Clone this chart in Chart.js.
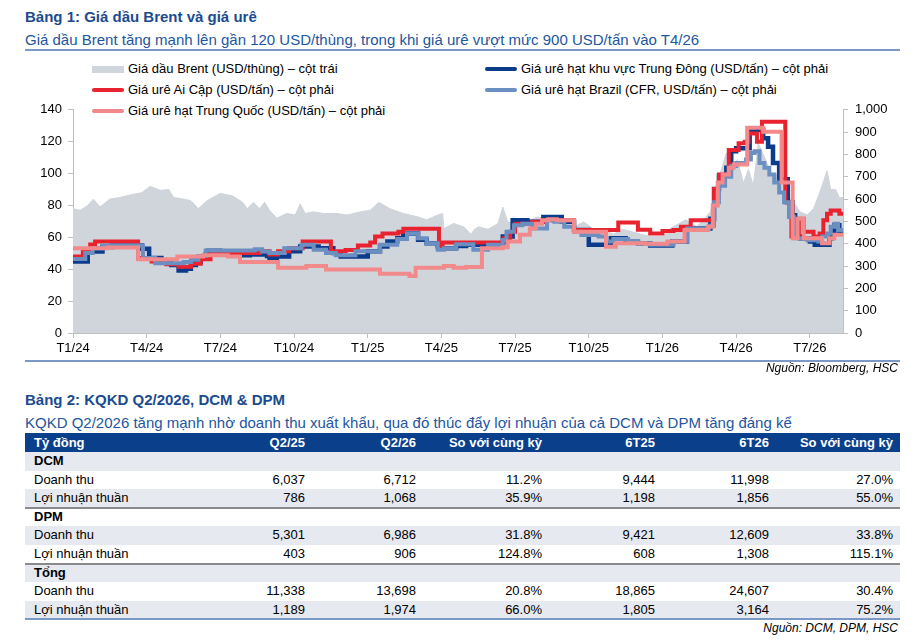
<!DOCTYPE html>
<html lang="vi">
<head>
<meta charset="utf-8">
<title>Giá dầu Brent và giá urê</title>
<script src="https://cdn.jsdelivr.net/npm/chart.js@4.4.1/dist/chart.umd.min.js"></script>
<style>
  html, body { margin: 0; padding: 0; background: #fff; }
  body { width: 921px; height: 641px; position: relative; overflow: hidden;
         font-family: Arial, "Liberation Sans", sans-serif; color: #000; }
  .abs { position: absolute; white-space: nowrap; }
  .title { font-size: 15px; font-weight: bold; color: #1B4B8F; line-height: 18px; }
  .sub { font-size: 15px; color: #2356A0; line-height: 18px; }
  .rule { position: absolute; left: 25px; width: 875px; height: 2px; background: #7C98C4; }
  .src { font-size: 12px; font-style: italic; line-height: 14px; right: 23px; }
  .lg { font-size: 13px; line-height: 16px; }
  .sw { position: absolute; width: 32px; height: 4px; border-radius: 2px; }
  #chartBox { position: absolute; left: 0; top: 95px; width: 921px; height: 270px; }
  .row { position: absolute; left: 25px; width: 875px; font-size: 13px; }
  .cell { position: absolute; top: 0; }
  .num { text-align: right; }
</style>
</head>
<body>

<div class="abs title" style="left:25px; top:8px;">Bảng 1: Giá dầu Brent và giá urê</div>
<div class="abs sub" style="left:25px; top:31px;">Giá dầu Brent tăng mạnh lên gần 120 USD/thùng, trong khi giá urê vượt mức 900 USD/tấn vào T4/26</div>
<div class="rule" style="top:49px;"></div>

<div id="legend"></div>

<div id="chartBox"><canvas id="ureaChart" width="921" height="270"></canvas></div>

<div class="rule" style="top:360px;"></div>
<div class="abs src" style="top:361px;">Nguồn: Bloomberg, HSC</div>

<div class="abs title" style="left:25px; top:391px;">Bảng 2: KQKD Q2/2026, DCM &amp; DPM</div>
<div class="abs sub" style="left:25px; top:414px;">KQKD Q2/2026 tăng mạnh nhờ doanh thu xuất khẩu, qua đó thúc đẩy lợi nhuận của cả DCM và DPM tăng đáng kể</div>

<div id="table"></div>
<div class="abs src" style="top:621px;">Nguồn: DCM, DPM, HSC</div>

<script>
// x values are months counted from T1/24 (0 = Jan 2024)
const tickMonths = [0, 3, 6, 9, 12, 15, 18, 21, 24, 27, 30];
const tickLabels = ['T1/24', 'T4/24', 'T7/24', 'T10/24', 'T1/25', 'T4/25', 'T7/25', 'T10/25', 'T1/26', 'T4/26', 'T7/26'];

// Brent (USD/thùng), left axis
const brentMonths = [0, 0.3, 0.6, 0.83, 1.1, 1.5, 1.9, 2.45, 2.8, 3.14, 3.55, 3.9, 4.1, 4.5, 4.8, 5.1, 5.45, 6.0, 6.5, 6.9,
  7.1, 7.35, 7.6, 7.8, 8.0, 8.3, 8.7, 9.05, 9.25, 9.45, 9.8, 10.2, 10.75, 11.15, 11.7, 12.1, 12.45, 12.9, 13.45, 14.0,
  14.4, 14.85, 15.05, 15.1, 15.5, 15.9, 16.2, 16.35, 16.5, 16.9, 17.3, 17.5, 17.7, 17.95, 18.5, 18.9, 19.45, 20.0, 20.4, 20.8,
  21.2, 21.6, 22.0, 22.4, 23.0, 23.5, 24.05, 24.3, 24.95, 25.4, 25.95, 26.2, 26.4, 26.6, 26.8, 27.05, 27.3, 27.5, 27.7, 27.9,
  28.2, 28.5, 28.8, 29.1, 29.35, 29.6, 29.9, 30.15, 30.4, 30.7, 30.85, 31.05, 31.2, 31.35];
const brentPrice = [78, 77, 80, 84, 79, 84, 85, 87, 88, 92, 89.5, 90, 85, 84, 83, 78, 83, 87.6, 86, 82,
  78, 82, 78, 82, 77, 72, 75, 74, 81, 75, 76, 75, 75, 74, 76, 77, 82, 78, 75, 73,
  71, 74, 75, 65.5, 68.7, 66.6, 62, 65, 66.6, 65, 68.7, 79, 69.7, 68.7, 69.7, 72.8, 71.7, 69.7, 66.6, 69.7,
  65, 65, 62, 65, 62.5, 60.5, 60.5, 65.5, 71, 66.6, 76, 94, 102.6, 113, 102.6, 108.8, 94, 102.6, 92.5, 119,
  108.8, 96, 102.6, 86, 82, 76, 74, 78, 88, 101.8, 90, 90, 85, 85];

// urea, right axis (USD/tấn); each point starts a new price level
const meMonths = [0, 0.6, 1.2, 1.6, 2.8, 3.1, 3.6, 4.0, 4.3, 4.6, 4.8, 5.0, 5.2, 5.4, 5.5, 6.0, 6.6, 7.2, 7.9, 8.0,
  8.3, 8.8, 9.25, 10.0, 10.6, 10.9, 12.0, 12.5, 12.8, 13.2, 13.45, 14.05, 14.4, 14.85, 15.0, 15.6, 16.0, 17.5, 17.9, 18.5,
  19.15, 19.9, 20.4, 21.0, 21.9, 22.5, 23.0, 23.5, 24.4, 25.0, 25.95, 26.1, 26.3, 26.6, 26.8, 27.0, 27.55, 28.1, 28.3, 28.5,
  28.75, 29.1, 29.3, 29.4, 29.6, 30.0, 30.2, 30.8, 30.9, 31.0, 31.2, 31.35];
const mePrice = [320, 365, 385, 392, 378, 336, 318, 305, 280, 288, 305, 318, 335, 352, 368, 355, 348, 352, 345, 336,
  343, 366, 388, 380, 358, 343, 366, 388, 410, 424, 446, 418, 402, 388, 380, 390, 395, 432, 505, 498,
  520, 498, 462, 395, 424, 410, 402, 392, 410, 468, 512, 645, 704, 740, 814, 828, 909, 872, 835, 762,
  689, 586, 527, 432, 424, 410, 395, 424, 446, 483, 455, 455];

const egyptMonths = [0, 0.4, 0.7, 0.9, 2.65, 3.2, 3.8, 4.3, 4.8, 5.2, 5.6, 7.6, 8.0, 8.35, 8.8, 9.35, 10.5, 11.1, 11.6, 12.1,
  12.3, 12.6, 13.25, 13.45, 14.9, 15.05, 17.55, 17.8, 18.0, 18.7, 19.2, 20.4, 22.2, 23.0, 23.5, 24.0, 24.45, 24.75, 25.15, 26.1,
  26.3, 26.7, 27.1, 27.35, 27.5, 27.85, 28.05, 29.0, 29.25, 29.55, 29.75, 30.15, 30.4, 30.55, 30.7, 30.85, 31.2, 31.35];
const egyptPrice = [343, 366, 396, 410, 336, 320, 308, 297, 310, 330, 358, 366, 352, 366, 380, 410, 366, 372, 392, 406,
  432, 446, 454, 467, 380, 406, 424, 454, 490, 498, 505, 461, 495, 463, 446, 457, 461, 476, 505, 645,
  710, 820, 850, 857, 894, 857, 946, 586, 432, 512, 454, 432, 446, 505, 534, 549, 534, 534];

const brazilMonths = [0, 0.5, 0.8, 1.2, 2.85, 3.35, 4.5, 4.8, 5.1, 5.4, 7.4, 7.7, 8.0, 8.6, 9.3, 9.8, 10.3, 10.7, 11.5, 12.5,
  13.2, 13.6, 14.05, 14.4, 14.85, 15.1, 15.6, 16.3, 16.9, 17.5, 17.65, 17.95, 18.3, 18.7, 19.3, 19.6, 20.0, 20.4, 20.7, 21.4,
  21.7, 22.0, 22.6, 23.0, 23.5, 24.45, 25.0, 25.9, 26.1, 26.3, 26.55, 26.8, 27.0, 27.4, 27.6, 27.75, 27.95, 28.15, 28.35, 28.55,
  28.75, 28.95, 29.15, 29.35, 29.9, 30.35, 30.5, 30.7, 30.85, 31.0, 31.15, 31.35];
const brazilPrice = [332, 358, 380, 392, 336, 312, 318, 328, 345, 370, 375, 365, 358, 380, 395, 373, 358, 348, 366, 395,
  421, 446, 424, 402, 373, 380, 398, 373, 395, 417, 454, 483, 490, 468, 505, 498, 476, 454, 439, 432,
  410, 421, 412, 402, 395, 410, 468, 480, 586, 660, 700, 748, 762, 777, 806, 814, 762, 740, 710, 674,
  630, 586, 520, 424, 415, 410, 432, 446, 476, 490, 461, 461];

const chinaMonths = [0, 1.4, 2.65, 4.25, 5.3, 6.3, 6.8, 8.35, 9.5, 10.3, 12.5, 13.7, 13.95, 15.1, 15.5, 16.0, 16.65, 17.5, 17.7, 18.2,
  18.6, 18.85, 19.1, 19.35, 19.7, 20.4, 21.7, 22.1, 23.3, 24.2, 24.9, 25.85, 26.05, 26.25, 26.45, 26.7, 26.9, 27.45, 28.1, 28.85,
  29.3, 29.5, 29.75, 30.5, 30.8, 31.0, 31.35];
const chinaPrice = [380, 383, 330, 343, 348, 343, 318, 292, 300, 284, 266, 255, 292, 300, 292, 296, 380, 384, 410, 440,
  468, 490, 505, 510, 505, 454, 386, 402, 400, 410, 462, 476, 571, 674, 710, 740, 755, 920, 902, 674,
  424, 512, 424, 402, 424, 440, 440];

const seriesNames = [
  'Giá dầu Brent (USD/thùng) – cột trái',
  'Giá urê hạt khu vực Trung Đông (USD/tấn) – cột phải',
  'Giá urê Ai Cập (USD/tấn) – cột phải',
  'Giá urê hạt Brazil (CFR, USD/tấn) – cột phải',
  'Giá urê hạt Trung Quốc (USD/tấn) – cột phải'
];
const seriesColors = ['#D0D4DB', '#0B3C8C', '#E8222E', '#6C8FC2', '#F28A8C'];

// table values
const tableHead = ['Tỷ đồng', 'Q2/25', 'Q2/26', 'So với cùng kỳ', '6T25', '6T26', 'So với cùng kỳ'];
const groupNames = ['DCM', 'DPM', 'Tổng'];
const rowNames = ['Doanh thu', 'Lợi nhuận thuần'];
const dcmRows = [['6,037', '6,712', '11.2%', '9,444', '11,998', '27.0%'],
                 ['786', '1,068', '35.9%', '1,198', '1,856', '55.0%']];
const dpmRows = [['5,301', '6,986', '31.8%', '9,421', '12,609', '33.8%'],
                 ['403', '906', '124.8%', '608', '1,308', '115.1%']];
const totalRows = [['11,338', '13,698', '20.8%', '18,865', '24,607', '30.4%'],
                   ['1,189', '1,974', '66.0%', '1,805', '3,164', '75.2%']];

function pts(xs, ys) {
  return xs.map((x, i) => ({ x: x, y: ys[i] }));
}

// legend (html)
const legendSpots = [
  { left: 92, top: 69, bar: true },
  { left: 485, top: 69 },
  { left: 92, top: 90 },
  { left: 485, top: 90 },
  { left: 92, top: 111 }
];
const legendEl = document.getElementById('legend');
seriesNames.forEach((name, i) => {
  const s = legendSpots[i];
  const sw = document.createElement('div');
  sw.className = 'sw';
  sw.style.left = s.left + 'px';
  sw.style.background = seriesColors[i];
  if (s.bar) {
    sw.style.height = '7px';
    sw.style.borderRadius = '0';
    sw.style.top = (s.top - 3.5) + 'px';
  } else {
    sw.style.top = (s.top - 2) + 'px';
  }
  legendEl.appendChild(sw);
  const t = document.createElement('div');
  t.className = 'abs lg';
  t.style.left = (s.left + 36) + 'px';
  t.style.top = (s.top - 8) + 'px';
  t.textContent = name;
  legendEl.appendChild(t);
});

const tickFont = { family: 'Arial, "Liberation Sans", sans-serif', size: 13 };
const axisGray = '#BFBFBF';

const ctx = document.getElementById('ureaChart').getContext('2d');
new Chart(ctx, {
  type: 'line',
  data: {
    datasets: [
      {
        label: seriesNames[0],
        data: pts(brentMonths, brentPrice),
        yAxisID: 'yLeft',
        borderColor: seriesColors[0],
        backgroundColor: seriesColors[0],
        borderWidth: 1,
        fill: 'origin',
        pointRadius: 0,
        order: 5
      },
      {
        label: seriesNames[1],
        data: pts(meMonths, mePrice),
        yAxisID: 'yRight',
        borderColor: seriesColors[1],
        borderWidth: 4.5,
        stepped: true,
        fill: false,
        pointRadius: 0,
        order: 4
      },
      {
        label: seriesNames[2],
        data: pts(egyptMonths, egyptPrice),
        yAxisID: 'yRight',
        borderColor: seriesColors[2],
        borderWidth: 4,
        stepped: true,
        fill: false,
        pointRadius: 0,
        order: 3
      },
      {
        label: seriesNames[3],
        data: pts(brazilMonths, brazilPrice),
        yAxisID: 'yRight',
        borderColor: seriesColors[3],
        borderWidth: 4,
        stepped: true,
        fill: false,
        pointRadius: 0,
        order: 2
      },
      {
        label: seriesNames[4],
        data: pts(chinaMonths, chinaPrice),
        yAxisID: 'yRight',
        borderColor: seriesColors[4],
        borderWidth: 4,
        stepped: true,
        fill: false,
        pointRadius: 0,
        order: 1
      }
    ]
  },
  options: {
    responsive: false,
    animation: false,
    layout: { padding: { top: 11, left: 0, right: 0, bottom: 0 } },
    plugins: {
      legend: { display: false },
      tooltip: { enabled: false }
    },
    scales: {
      x: {
        type: 'linear',
        min: 0,
        max: 31.35,
        afterBuildTicks: (scale) => {
          scale.ticks = tickMonths.map(v => ({ value: v }));
        },
        afterFit: (scale) => { scale.height = 32; },
        ticks: {
          autoSkip: false,
          maxRotation: 0,
          padding: 3,
          color: '#000',
          font: tickFont,
          callback: (v) => tickLabels[tickMonths.indexOf(v)]
        },
        grid: { drawOnChartArea: false, drawTicks: true, tickLength: 5, color: axisGray },
        border: { display: true, color: axisGray }
      },
      yLeft: {
        position: 'left',
        min: 0,
        max: 140,
        afterFit: (scale) => { scale.width = 73; },
        ticks: { stepSize: 20, padding: 6, color: '#000', font: tickFont },
        grid: { drawOnChartArea: false, drawTicks: true, tickLength: 5, color: axisGray },
        border: { display: true, color: axisGray }
      },
      yRight: {
        position: 'right',
        min: 0,
        max: 1000,
        afterFit: (scale) => { scale.width = 78; },
        ticks: {
          stepSize: 100,
          padding: 7,
          color: '#000',
          font: tickFont,
          callback: (v) => v.toLocaleString('en-US')
        },
        grid: { drawOnChartArea: false, drawTicks: true, tickLength: 5, color: axisGray },
        border: { display: true, color: axisGray }
      }
    }
  }
});

// table (html)
const colRight = [305, 416, 542, 655, 769, 893];
const tableEl = document.getElementById('table');

function addRow(top, height, cells, opts) {
  const r = document.createElement('div');
  r.className = 'row';
  r.style.top = top + 'px';
  r.style.height = height + 'px';
  r.style.lineHeight = height + 'px';
  r.style.background = opts.bg;
  if (opts.color) r.style.color = opts.color;
  if (opts.bold) r.style.fontWeight = 'bold';
  cells.forEach((txt, i) => {
    const c = document.createElement('div');
    c.className = 'cell';
    c.textContent = txt;
    if (i === 0) {
      c.style.left = '9px';
    } else {
      c.classList.add('num');
      c.style.right = (900 - colRight[i - 1]) + 'px';
    }
    r.appendChild(c);
  });
  tableEl.appendChild(r);
}

addRow(433, 19, tableHead, { bg: '#0A3F8C', color: '#fff', bold: true });

const bodyRows = [];
[dcmRows, dpmRows, totalRows].forEach((grp, g) => {
  bodyRows.push({ cells: [groupNames[g]], bold: true, divider: g > 0 });
  grp.forEach((vals, k) => bodyRows.push({ cells: [rowNames[k]].concat(vals) }));
});
const rowH = 18.6;
bodyRows.forEach((r, i) => {
  const top = 452 + i * rowH;
  addRow(top, rowH, r.cells, { bg: i % 2 === 0 ? '#E6E9F0' : '#fff', bold: r.bold });
  if (r.divider) {
    const d = document.createElement('div');
    d.className = 'rule';
    d.style.top = (top - 1) + 'px';
    d.style.background = '#8A8A8A';
    tableEl.appendChild(d);
  }
});
const bottom = document.createElement('div');
bottom.className = 'rule';
bottom.style.top = (452 + bodyRows.length * rowH - 1) + 'px';
tableEl.appendChild(bottom);
</script>
</body>
</html>
